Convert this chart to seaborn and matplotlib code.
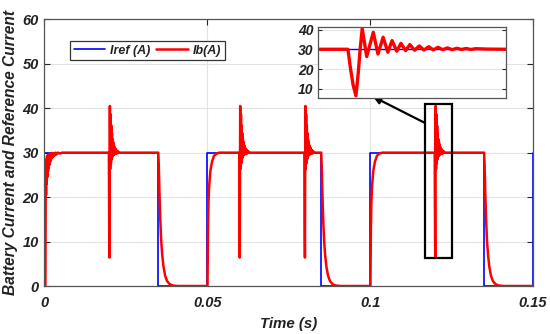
import numpy as np
import pandas as pd
import matplotlib
matplotlib.use("Agg")
import matplotlib.pyplot as plt
import seaborn as sns
from matplotlib.patches import Rectangle

# ---------------- data ----------------
# reference current (step corners)
iref_t = [0.0, 0.035, 0.035, 0.05, 0.05, 0.085, 0.085, 0.10, 0.10, 0.135, 0.135, 0.15, 0.15]
iref_v = [30, 30, 0, 0, 30, 30, 0, 0, 30, 30, 0, 0, 30]

# on-intervals of the battery current (start, end) in s
on_starts = [0.0, 0.05, 0.10]
on_ends = [0.035, 0.085, 0.135]

# first start-up transient (ms after start, A) - rippled rise
first_rise_ms = [0.35, 0.45, 0.55, 0.65, 0.75, 0.85, 0.95, 1.05, 1.15, 1.25, 1.35, 1.45,
                 1.55, 1.65, 1.75, 1.85, 1.95, 2.05, 2.15, 2.3, 2.45, 2.6, 2.8, 3.0,
                 3.2, 3.5, 3.8, 4.2, 4.8, 5.5]
first_rise_a = [0, 26, 20.5, 28.5, 23, 29.2, 24.5, 29.4, 25.8, 29.5, 26.6, 29.6,
                27.2, 29.7, 27.8, 29.8, 28.2, 29.8, 28.6, 29.9, 28.9, 29.9, 29.2, 29.9,
                29.4, 30, 29.6, 30, 29.8, 30]

# later start-up transients (ms after start, A)
rise_ms = [0.1, 0.25, 0.4, 0.6, 1.0, 1.5, 2.1, 2.9, 3.7, 5.0]
rise_a = [0, 13, 19, 22.5, 26, 28, 29.3, 29.8, 30, 30]

# disturbance spikes (s) and their shape (ms relative to the minimum, A)
spike_times = [0.02, 0.06, 0.08, 0.12]
spike_ms = [-0.17, -0.12, -0.06, 0.0, 0.05, 0.09, 0.134, 0.23, 0.37, 0.47, 0.58, 0.68,
            0.77, 0.87, 0.96, 1.06, 1.15, 1.25, 1.35, 1.45, 1.55, 1.65, 1.75, 1.85,
            1.95, 2.05, 2.15, 2.25, 2.35, 2.45, 2.55, 2.8, 3.2]
spike_a = [30, 21, 12, 6.4, 18, 30, 40.5, 26.3, 38.6, 27.6, 36.1, 28.5,
           34.4, 29.0, 33.0, 29.3, 32.4, 29.5, 31.7, 29.6, 31.3, 29.7, 31.0, 29.8,
           30.7, 29.8, 30.5, 29.9, 30.4, 29.9, 30.3, 30.1, 30]

# turn-off decay (ms after end, A)
decay_ms = [0, 0.15, 0.35, 0.6, 0.9, 1.2, 1.6, 2.1, 2.7, 3.5, 4.5, 6.0]
decay_a = [30, 27, 21, 15, 10, 7, 4.3, 2.3, 1.1, 0.4, 0.1, 0]

# zoom window / box annotations
inset_window_ms = [-0.81, 3.19]
zoom_event = 0.12
zoom_box = [0.1168, 6.3, 0.1250, 41.0]  # x0, y0, x1, y1

# ---------------- assemble battery current trace ----------------
t_parts, a_parts = [np.array([0.0])], [np.array([0.0])]
for k, (s, e) in enumerate(zip(on_starts, on_ends)):
    if k == 0:
        rt, ra = first_rise_ms, first_rise_a
    else:
        rt, ra = rise_ms, rise_a
    t_parts.append(s + np.array(rt) / 1000.0)
    a_parts.append(np.array(ra, dtype=float))
    for st in spike_times:
        if s < st < e:
            t_parts.append(st + np.array(spike_ms) / 1000.0)
            a_parts.append(np.array(spike_a, dtype=float))
    t_parts.append(e + np.array(decay_ms) / 1000.0)
    a_parts.append(np.array(decay_a, dtype=float))
t_parts.append(np.array([0.15]))
a_parts.append(np.array([0.0]))
ib_t = np.concatenate(t_parts)
ib_a = np.concatenate(a_parts)

df_ref = pd.DataFrame({"t": iref_t, "i": iref_v})
df_ib = pd.DataFrame({"t": ib_t, "i": ib_a})

# ---------------- style ----------------
sns.set_style("ticks")
plt.rcParams["font.family"] = ["Liberation Sans", "DejaVu Sans"]
plt.rcParams["font.weight"] = "bold"
plt.rcParams["font.style"] = "italic"
plt.rcParams["axes.labelweight"] = "bold"

fig = plt.figure(figsize=(5.5, 3.34), dpi=100)
ax = fig.add_axes([0.0805, 0.1437, 0.8886, 0.7985])

blue = "#0000ff"
red = "#ff0000"
sns.lineplot(data=df_ref, x="t", y="i", ax=ax, color=blue, lw=1.2,
             estimator=None, sort=False, label="Iref (A)")
sns.lineplot(data=df_ib, x="t", y="i", ax=ax, color=red, lw=1.8,
             estimator=None, sort=False, label="Ib(A)")

ax.set_xlim(0, 0.15)
ax.set_ylim(0, 60)
ax.set_xticks([0, 0.05, 0.1, 0.15])
ax.set_xticklabels(["0", "0.05", "0.1", "0.15"])
ax.set_yticks(range(0, 61, 10))
ax.grid(True, color="#e3e3e3", lw=0.8)
ax.set_axisbelow(True)
ax.tick_params(direction="in", top=True, right=True, length=4, width=0.8,
               labelsize=10.5, colors="#262626", labelcolor="#222222")
ax.tick_params(axis="x", pad=7)
ax.tick_params(axis="y", pad=4)
for lab in ax.get_xticklabels() + ax.get_yticklabels():
    lab.set_fontweight("bold")
    lab.set_fontstyle("italic")
for sp in ax.spines.values():
    sp.set_color("#555555")
    sp.set_linewidth(0.9)
ax.set_xlabel("Time (s)", fontsize=10.8, fontweight="bold", fontstyle="italic",
              labelpad=5, color="#222222")
ax.set_ylabel("Battery Current and Reference Current", fontsize=11.2,
              fontweight="bold", fontstyle="italic", labelpad=3, color="#222222")

leg = ax.legend(loc="upper left", bbox_to_anchor=(0.0526, 0.919), borderaxespad=0,
                ncol=2, frameon=True, fancybox=False, edgecolor="#333333",
                framealpha=1, fontsize=9, handlelength=2.5, columnspacing=0.5,
                handletextpad=0.4, borderpad=0.3)
leg.get_frame().set_linewidth(0.9)
for txt in leg.get_texts():
    txt.set_fontweight("bold")
    txt.set_fontstyle("italic")
    txt.set_color("#222222")

# zoom box and arrow
x0, y0, x1, y1 = zoom_box
ax.add_patch(Rectangle((x0, y0), x1 - x0, y1 - y0, fill=False, ec="black", lw=1.6, zorder=5))
ax.annotate("", xy=(0.1009, 42.6), xytext=(x0, 36.7), xycoords="data",
            arrowprops=dict(arrowstyle="-|>", color="black", lw=1.6, mutation_scale=11,
                            shrinkA=0, shrinkB=0), zorder=6, annotation_clip=False)

# inset
axi = fig.add_axes([0.578, 0.7066, 0.3413, 0.2126])
sns.lineplot(data=df_ref, x="t", y="i", ax=axi, color=blue, lw=1.0,
             estimator=None, sort=False, legend=False)
sns.lineplot(data=df_ib, x="t", y="i", ax=axi, color=red, lw=2.4,
             estimator=None, sort=False, legend=False)
axi.set_xlim(zoom_event + inset_window_ms[0] / 1000.0, zoom_event + inset_window_ms[1] / 1000.0)
axi.set_ylim(5.3, 41.3)
axi.set_yticks([10, 20, 30, 40])
axi.set_xticks([])
axi.set_xlabel("")
axi.set_ylabel("")
axi.grid(True, axis="y", color="#e3e3e3", lw=0.8)
axi.set_axisbelow(True)
axi.tick_params(direction="in", right=True, length=3, width=0.8, labelsize=10,
                colors="#262626", labelcolor="#222222", pad=3)
for lab in axi.get_yticklabels():
    lab.set_fontweight("bold")
    lab.set_fontstyle("italic")
for sp in axi.spines.values():
    sp.set_color("#555555")
    sp.set_linewidth(0.9)

fig.savefig("out.png", dpi=100)
